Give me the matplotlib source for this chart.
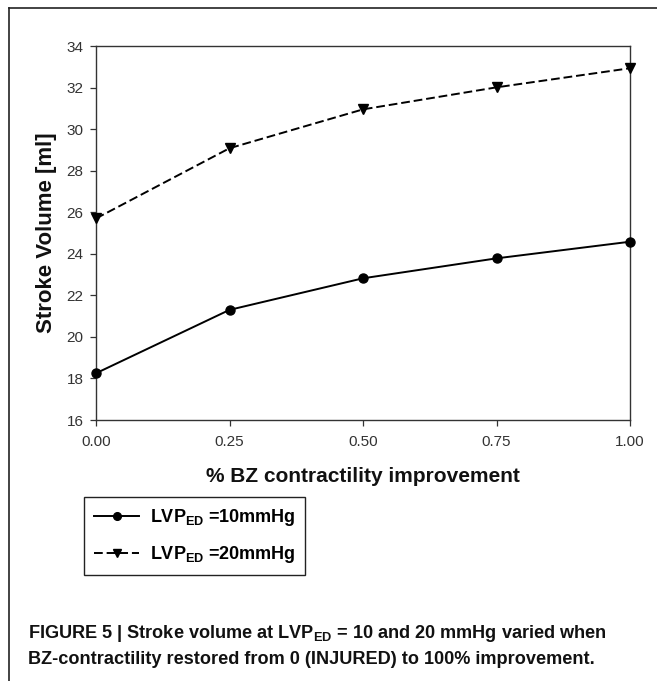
import matplotlib
matplotlib.use('Agg')
import matplotlib.pyplot as plt
from matplotlib.lines import Line2D

plt.rcParams['font.family'] = ['Liberation Sans', 'DejaVu Sans']
plt.rcParams['mathtext.fontset'] = 'custom'
plt.rcParams['mathtext.rm'] = 'Liberation Sans'
plt.rcParams['mathtext.bf'] = 'Liberation Sans:bold'

# data
improvement = [0.00, 0.25, 0.50, 0.75, 1.00]
sv_10mmhg = [18.25, 21.3, 22.82, 23.78, 24.58]
sv_20mmhg = [25.7, 29.08, 30.95, 32.01, 32.93]
x_ticks = [0.00, 0.25, 0.50, 0.75, 1.00]
y_ticks = [16, 18, 20, 22, 24, 26, 28, 30, 32, 34]
legend_labels = [r'LVP$_{\mathbf{ED}}$ =10mmHg', r'LVP$_{\mathbf{ED}}$ =20mmHg']

W, H = 657, 681
fig = plt.figure(figsize=(W / 100, H / 100), dpi=100)

# outer frame (top and left edges)
fig.add_artist(Line2D([9 / W, 9 / W], [0, 1 - 8 / H], color='#222222', lw=1.2,
                      transform=fig.transFigure))
fig.add_artist(Line2D([9 / W, 1], [1 - 8 / H, 1 - 8 / H], color='#222222', lw=1.2,
                      transform=fig.transFigure))

ax = fig.add_axes([96 / W, 1 - 420 / H, (630 - 96) / W, (420 - 46) / H])
l1, = ax.plot(improvement, sv_10mmhg, '-', color='black', lw=1.4,
              marker='o', markersize=6.5, clip_on=False, zorder=3)
l2, = ax.plot(improvement, sv_20mmhg, '--', color='black', lw=1.4,
              marker='v', markersize=7, dashes=(4.5, 2), clip_on=False, zorder=3)

ax.set_xlim(0, 1)
ax.set_ylim(16, 34)
ax.set_xticks(x_ticks)
ax.set_xticklabels(['%.2f' % v for v in x_ticks])
ax.set_yticks(y_ticks)
ax.tick_params(direction='out', length=4.5, width=0.9, labelsize=11, colors='#333333',
               pad=4.5)
ax.tick_params(axis='x', pad=6.5)
for s in ax.spines.values():
    s.set_linewidth(1.0)
    s.set_color('#333333')

ax.set_xlabel('% BZ contractility improvement', fontsize=15, labelpad=13,
              fontweight='bold', color='#111111')
ax.set_ylabel('Stroke Volume [ml]', fontsize=16, fontweight='bold', labelpad=7,
              color='#111111')

leg = fig.legend([l1, l2], legend_labels, loc='upper left',
                 bbox_to_anchor=(84 / W, 1 - 497 / H), frameon=True, fancybox=False,
                 edgecolor='#222222', framealpha=1, handlelength=2.5, handletextpad=0.6,
                 borderpad=0.55, labelspacing=0.9, borderaxespad=0, markerscale=0.85,
                 prop={'size': 13, 'weight': 'bold'})
leg.get_frame().set_linewidth(1.0)

cap_font = {'size': 13.1, 'weight': 'bold'}
fig.text(28 / W, 1 - 633 / H,
         r'FIGURE 5 | Stroke volume at LVP$_{\mathbf{ED}}$ = 10 and 20 mmHg varied when',
         va='center', ha='left', fontdict=cap_font, color='#111111')
fig.text(28 / W, 1 - 660 / H,
         'BZ-contractility restored from 0 (INJURED) to 100% improvement.',
         va='center', ha='left', fontdict=cap_font, color='#111111')

fig.savefig('out.png', dpi=100)
